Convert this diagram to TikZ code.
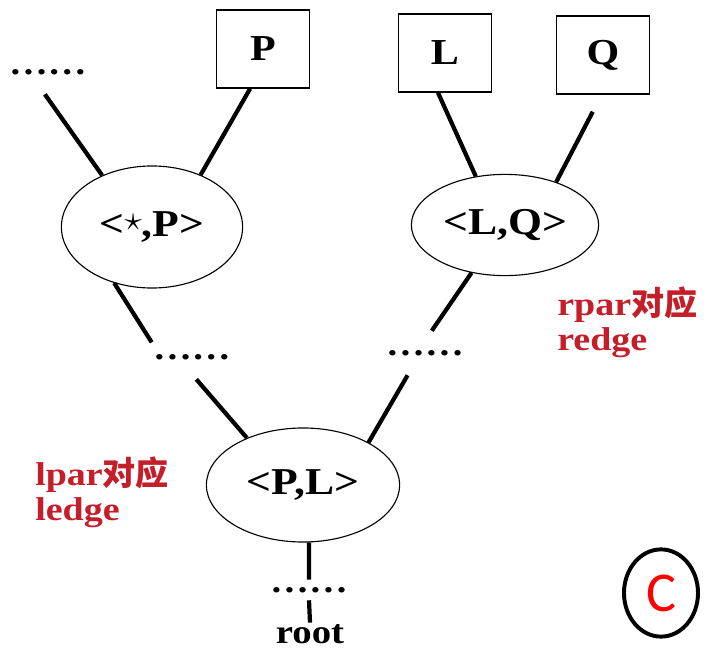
\documentclass[tikz,border=0pt]{standalone}
\usepackage{fontspec}
\setmainfont{Liberation Serif}[FakeStretch=1.15]
\newfontfamily\cjkfont{Noto Sans CJK SC}
\newfontfamily\markfont{Carlito}
\usetikzlibrary{shapes.geometric}
\definecolor{LabelRed}{HTML}{C41E2A}
\definecolor{MarkRed}{HTML}{FF0000}

\begin{document}
\begin{tikzpicture}[
    x=0.025cm, y=-0.025cm,
    leaf/.style={rectangle, draw, line width=1pt, minimum width=2.32cm,
                 minimum height=1.95cm, inner sep=0pt,
                 font=\fontsize{26}{28}\selectfont\bfseries},
    pair/.style={ellipse, draw, line width=0.8pt, inner sep=0pt,
                 font=\fontsize{27}{28}\selectfont\bfseries},
    dotsgap/.style={rectangle, minimum width=2cm, minimum height=1.1cm,
                    inner sep=0pt, font=\fontsize{24}{26}\selectfont\bfseries},
    link/.style={line width=3pt},
    note/.style={align=left, anchor=west, inner sep=0pt, text=LabelRed,
                 font=\fontsize{23.5}{25}\selectfont\bfseries}
]
    \useasboundingbox (0,0) rectangle (706,651);

    % leaves on top
    \node[leaf] (P) at (263,49) {P};
    \node[leaf] (L) at (445,53) {L};
    \node[leaf] (Q) at (603,55) {Q};
    \node[dotsgap] (dotsTL) at (48,72) {……};

    % pair nodes
    \node[pair, minimum width=4.53cm, minimum height=3.05cm] (starP) at (152,227)
        {<\raisebox{.35ex}{$\star$},P>};
    \node[pair, minimum width=4.68cm, minimum height=2.53cm] (LQ) at (505,225) {<L,Q>};
    \node[pair, minimum width=4.83cm, minimum height=2.85cm] (PL) at (303,485) {<P,L>};

    % gaps and root
    \node[dotsgap] (dotsML) at (192,357) {……};
    \node[dotsgap] (dotsMR) at (425,353) {……};
    \node[dotsgap, minimum height=0.5cm] (dotsB) at (309,590) {……};
    \node[inner sep=1pt, font=\fontsize{24}{26}\selectfont\bfseries] (root) at (310,634) {root};

    % connectors
    \draw[link] (dotsTL.262) -- (starP.134);
    \draw[link] (P.252) -- (starP.47);
    \draw[link] (L.260) -- (LQ.121);
    \draw[link, shorten <=0.48cm] (Q.268) -- (LQ.40);
    \draw[link] (starP.236) -- (dotsML.160);
    \draw[link] (LQ.235) -- (dotsMR.73);
    \draw[link] (dotsML.281) -- (PL.140);
    \draw[link] (dotsMR.232) -- (PL.33);
    \draw[link] (PL.276) -- (dotsB.north);
    \draw[link] (dotsB.south) -- (root.north);

    % red notes
    \node[note] (rnote) at (557,322) {rpar{\cjkfont 对应}\\redge};
    \node[note] (lnote) at (35,492) {lpar{\cjkfont 对应}\\ledge};

    % corner mark
    \node[ellipse, draw, line width=2.8pt, minimum width=1.85cm,
          minimum height=2.18cm, text=MarkRed,
          font=\markfont\fontsize{40}{40}\selectfont] (mark) at (661,593) {C};
\end{tikzpicture}
\end{document}
